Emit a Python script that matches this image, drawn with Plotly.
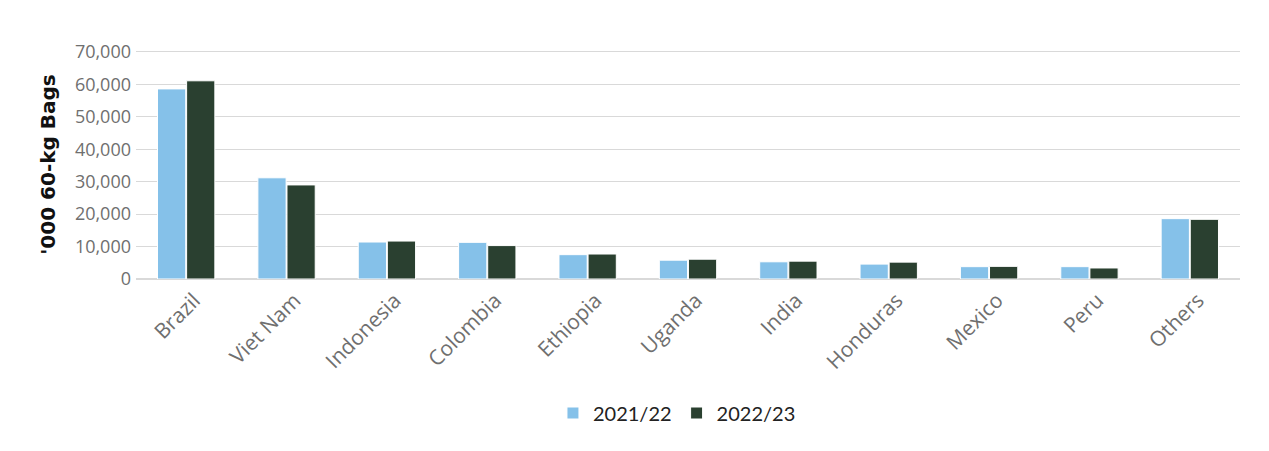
import plotly.graph_objects as go

countries = ["Brazil", "Viet Nam", "Indonesia", "Colombia", "Ethiopia", "Uganda",
             "India", "Honduras", "Mexico", "Peru", "Others"]
prod_2021_22 = [58600, 31200, 11400, 11300, 7500, 5800, 5300, 4600, 3800, 3800, 18600]
prod_2022_23 = [61100, 29000, 11700, 10300, 7700, 6100, 5500, 5200, 3900, 3400, 18400]
series_names = ["2021/22", "2022/23"]
colors = ["#85C1E9", "#2A4030"]

fig = go.Figure()
for name, vals, c in zip(series_names, [prod_2021_22, prod_2022_23], colors):
    fig.add_trace(go.Bar(x=countries, y=vals, name=name, marker_color=c,
                         marker_line_color="white", marker_line_width=1))

fig.update_layout(
    width=1269, height=451,
    margin=dict(l=128, r=37, t=42, b=180),
    paper_bgcolor="white", plot_bgcolor="white",
    barmode="group", bargap=0.42, bargroupgap=0.03,
    font=dict(family="Open Sans", color="#6f6f6f"),
    legend=dict(orientation="h", x=0.49, xanchor="center", y=-0.5, yanchor="top",
                font=dict(family="Lato", size=20, color="#222222"), traceorder="normal"),
)
fig.update_yaxes(range=[0, 70600], tickvals=[0, 10000, 20000, 30000, 40000, 50000, 60000, 70000],
                 tickformat=",", showgrid=True,
                 gridcolor="#d9d9d9", gridwidth=1, zeroline=True, zerolinecolor="#d9d9d9",
                 tickfont=dict(size=18, color="#6f6f6f"), ticklabelstandoff=4,
                 title=dict(text="'000 60-kg Bags",
                            font=dict(size=20, color="#111111", family="DejaVu Sans", weight="bold"),
                            standoff=13))
fig.update_xaxes(tickangle=-45, tickfont=dict(size=21, color="#6f6f6f"), showline=False, ticks="",
                 ticklabelshift=8, ticklabelstandoff=4)

fig.write_html("out.html")
